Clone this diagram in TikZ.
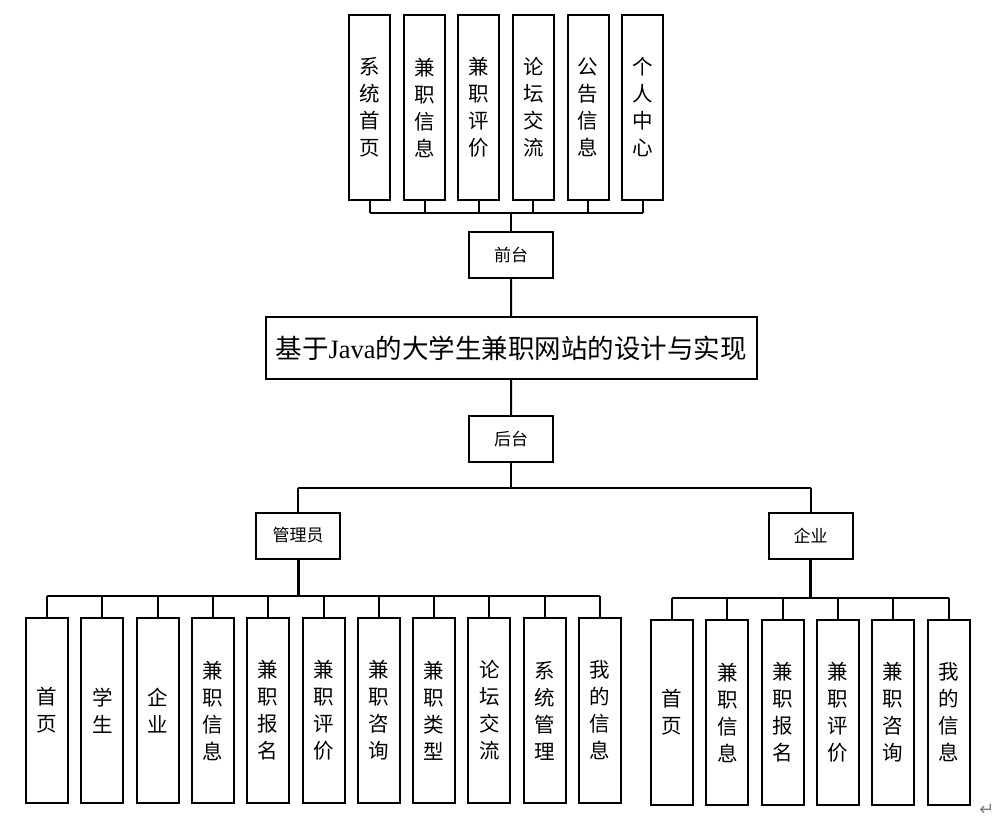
\documentclass[tikz,border=0pt]{standalone}
\usepackage{fontspec}
\newfontfamily\cjk{Noto Sans CJK SC}
\newfontfamily\lat{Liberation Serif}
\newfontfamily\dvs{DejaVu Sans}
\begin{document}
\begin{tikzpicture}[x=1pt,y=-1pt,
  box/.style={draw=black,line width=2pt,fill=white,inner sep=0pt,outer sep=0pt},
  tall/.style={box,minimum width=41pt,minimum height=185pt,align=center,font=\cjk\fontsize{20.5}{27}\selectfont},
  small/.style={box,minimum width=84pt,minimum height=46pt,font=\cjk\fontsize{17}{20}\selectfont},
  wire/.style={line width=2pt},
  trunk/.style={line width=2.8pt}]
\useasboundingbox (0,0) rectangle (1002,827);
% front end leaves
\node[tall] (t1) at (369.8,107.5) {系\\统\\首\\页};
\node[tall] (t2) at (424.5,107.5) {兼\\职\\信\\息};
\node[tall] (t3) at (478.7,107.5) {兼\\职\\评\\价};
\node[tall] (t4) at (533.3,107.5) {论\\坛\\交\\流};
\node[tall] (t5) at (588.2,107.5) {公\\告\\信\\息};
\node[tall] (t6) at (642.7,107.5) {个\\人\\中\\心};
\node[small] (qt) at (511,255) {前台};
\node[box,minimum width=491pt,minimum height=62pt,font=\cjk\fontsize{26.5}{30}\selectfont] (main) at (511.2,348) {基于{\lat Java}的大学生兼职网站的设计与实现};
\node[small] (ht) at (511,439.2) {后台};
\node[small] (gly) at (298.2,535.5) {管理员};
\node[small] (qy) at (810.5,535.5) {企业};
% admin leaves
\foreach \i/\t in {0/{首\\页},1/{学\\生},2/{企\\业},3/{兼\\职\\信\\息},4/{兼\\职\\报\\名},5/{兼\\职\\评\\价},6/{兼\\职\\咨\\询},7/{兼\\职\\类\\型},8/{论\\坛\\交\\流},9/{系\\统\\管\\理},10/{我\\的\\信\\息}}
  \node[tall,minimum width=42pt] (a\i) at ({47+55.3*\i},710.5) {\t};
% company leaves
\foreach \i/\t in {0/{首\\页},1/{兼\\职\\信\\息},2/{兼\\职\\报\\名},3/{兼\\职\\评\\价},4/{兼\\职\\咨\\询},5/{我\\的\\信\\息}}
  \node[tall,minimum width=42pt] (c\i) at ({672+55.3*\i},712.5) {\t};
% top bus
\coordinate (tb) at (511,212.7);
\foreach \i in {1,...,6} \draw[wire] (t\i.south) -- (t\i.south |- tb);
\draw[wire] (t1.south |- tb) -- (t6.south |- tb);
\draw[trunk] (tb) -- (qt.north);
\draw[wire] (qt.south) -- (main.north);
\draw[wire] (main.south) -- (ht.north);
% middle bus
\coordinate (mb) at (511,488);
\draw[trunk] (ht.south) -- (mb);
\draw[wire] (gly.north |- mb) -- (qy.north |- mb);
\draw[wire] (gly.north |- mb) -- (gly.north);
\draw[wire] (qy.north |- mb) -- (qy.north);
% admin bus
\coordinate (ab) at (298.2,595.5);
\draw[trunk] (gly.south) -- (ab);
\draw[wire] (a0.north |- ab) -- (a10.north |- ab);
\foreach \i in {0,...,10} \draw[wire] (a\i.north |- ab) -- (a\i.north);
% company bus
\coordinate (cb) at (810.5,597.5);
\draw[trunk] (qy.south) -- (cb);
\draw[wire] (c0.north |- cb) -- (c5.north |- cb);
\foreach \i in {0,...,5} \draw[wire] (c\i.north |- cb) -- (c\i.north);
\node[font=\dvs\fontsize{18}{18}\selectfont,text=gray,inner sep=0pt] (ret) at (987,810) {↵};
\end{tikzpicture}
\end{document}
